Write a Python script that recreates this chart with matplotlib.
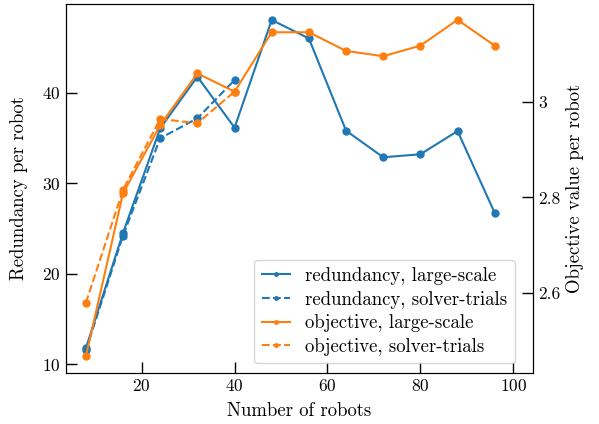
import matplotlib.pyplot as plt

# Serif Computer Modern look
plt.rcParams['font.family'] = 'serif'
plt.rcParams['font.serif'] = ['cmr10']
plt.rcParams['axes.formatter.use_mathtext'] = True
plt.rcParams['font.size'] = 12.5

# Number of robots
robots_large = [8, 16, 24, 32, 40, 48, 56, 64, 72, 80, 88, 96]
robots_trials = [8, 16, 24, 32, 40]

# Redundancy per robot
redundancy_large = [11.74, 24.5, 36.06, 41.77, 36.13, 48.04, 46.0, 35.8, 32.86, 33.19, 35.76, 26.7]
redundancy_trials = [11.5, 24.2, 34.96, 37.17, 41.4]

# Objective value per robot
objective_large = [2.468, 2.809, 2.951, 3.059, 3.021, 3.145, 3.145, 3.106, 3.095, 3.117, 3.171, 3.117]
objective_trials = [2.580, 2.816, 2.964, 2.955, 3.021]

fig = plt.figure(figsize=(5.99, 4.24), dpi=100)
ax = fig.add_axes([0.1097, 0.121, 0.7806, 0.8707])
ax2 = ax.twinx()

l1, = ax.plot(robots_large, redundancy_large, '-o', color='#1f77b4', lw=1.5, ms=5,
              label='redundancy, large-scale')
l2, = ax.plot(robots_trials, redundancy_trials, '--o', color='#1f77b4', lw=1.5, ms=5,
              label='redundancy, solver-trials')
l3, = ax2.plot(robots_large, objective_large, '-o', color='#ff7f0e', lw=1.5, ms=5,
               label='objective, large-scale')
l4, = ax2.plot(robots_trials, objective_trials, '--o', color='#ff7f0e', lw=1.5, ms=5,
               label='objective, solver-trials')

ax.set_xlim(3.66, 104.3)
ax.set_ylim(9.04, 49.86)
ax2.set_ylim(2.434, 3.205)

ax.set_xticks([20, 40, 60, 80, 100])
ax.set_yticks([10, 20, 30, 40])
ax2.set_yticks([2.6, 2.8, 3.0])
ax2.set_yticklabels(['2.6', '2.8', '3'])

ax.tick_params(direction='in', length=8, width=1, labelsize=12.5)
ax2.tick_params(direction='in', length=8, width=1, labelsize=12.5)

ax.set_xlabel('Number of robots', fontsize=13.5, labelpad=6)
ax.set_ylabel('Redundancy per robot', fontsize=13.5, labelpad=10)
ax2.set_ylabel('Objective value per robot', fontsize=13.5, labelpad=4)

ax2.legend(handles=[l1, l2, l3, l4], loc='lower right', markerscale=0.5,
           handlelength=1.5, fontsize=13.5, labelspacing=0.3,
           bbox_to_anchor=(0.98, 0.0))

fig.savefig('out.png', dpi=100)
